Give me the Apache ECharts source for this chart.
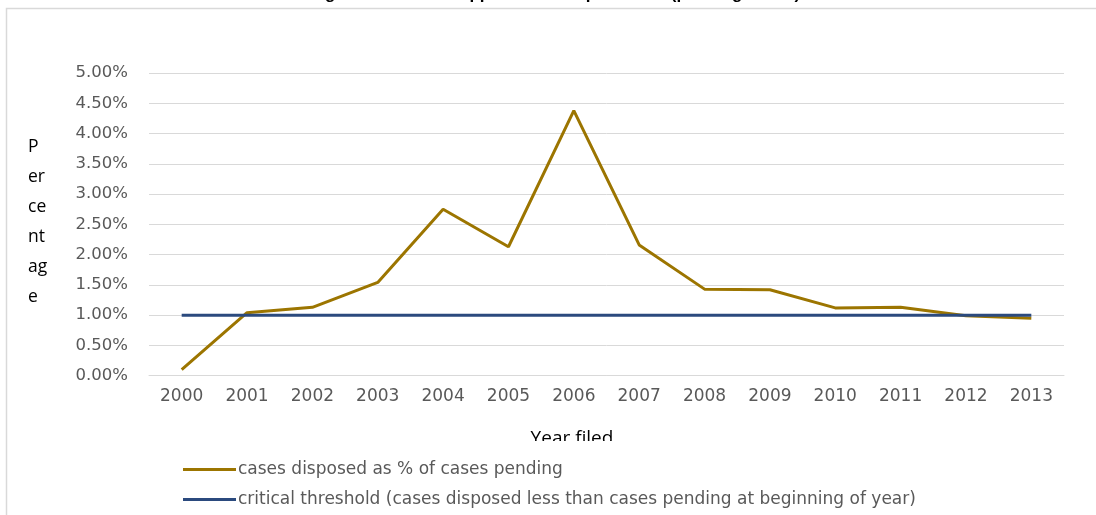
<!DOCTYPE html>
<html>
<head>
<meta charset="utf-8">
<script src="https://cdn.jsdelivr.net/npm/echarts@6/dist/echarts.min.js"></script>
<style>
  html, body { margin: 0; padding: 0; background: #ffffff; }
  #chart { width: 1096px; height: 515px; }
</style>
</head>
<body>
<div id="chart"></div>
<script>
// Year filed
const years = ['2000', '2001', '2002', '2003', '2004', '2005', '2006',
               '2007', '2008', '2009', '2010', '2011', '2012', '2013'];

// Cases disposed as % of cases pending (percent)
const disposedPct = [0.10, 1.04, 1.13, 1.54, 2.75, 2.13, 4.38,
                     2.16, 1.43, 1.42, 1.12, 1.13, 0.99, 0.95];

// Critical threshold (percent)
const thresholdPct = [1.00, 1.00, 1.00, 1.00, 1.00, 1.00, 1.00,
                      1.00, 1.00, 1.00, 1.00, 1.00, 1.00, 1.00];

const seriesNames = [
  'cases disposed as % of cases pending',
  'critical threshold (cases disposed less than cases pending at beginning of year)'
];

const titleText = 'Figure 4: Court of Appeal case disposal rate (pending cases)';
const yAxisTitle = 'P\ner\nce\nnt\nag\ne';
const xAxisTitle = 'Year filed';

const chart = echarts.init(document.getElementById('chart'), null, { renderer: 'canvas' });

chart.setOption({
  backgroundColor: '#ffffff',
  animation: false,
  grid: { left: 149, right: 32, top: 73, bottom: 139.3, containLabel: false },
  legend: {
    orient: 'vertical',
    left: 178,
    top: 456,
    itemWidth: 53,
    itemHeight: 3,
    itemGap: 13,
    icon: 'rect',
    textStyle: { color: '#595959', fontFamily: 'DejaVu Sans', fontSize: 17, padding: [0, 0, 0, -3] },
    data: seriesNames
  },
  xAxis: {
    type: 'category',
    data: years,
    boundaryGap: true,
    axisLine: { show: true, lineStyle: { color: '#d9d9d9', width: 1 } },
    axisTick: { show: false },
    axisLabel: { color: '#595959', fontFamily: 'DejaVu Sans', fontSize: 17, margin: 12 }
  },
  yAxis: {
    type: 'value',
    min: 0,
    max: 5,
    interval: 0.5,
    axisLine: { show: false },
    axisTick: { show: false },
    splitLine: { lineStyle: { color: '#d9d9d9', width: 1 } },
    axisLabel: {
      color: '#595959', fontFamily: 'DejaVu Sans', fontSize: 16.5, margin: 21,
      formatter: v => v.toFixed(2) + '%'
    }
  },
  series: [
    {
      name: seriesNames[0],
      type: 'line',
      data: disposedPct,
      symbol: 'none',
      lineStyle: { color: '#9c7500', width: 3 },
      itemStyle: { color: '#9c7500' }
    },
    {
      name: seriesNames[1],
      type: 'line',
      data: thresholdPct,
      symbol: 'none',
      lineStyle: { color: '#2b4a7e', width: 3 },
      itemStyle: { color: '#2b4a7e' }
    }
  ],
  graphic: [
    // outer chart frame
    {
      type: 'rect', z: 0, silent: true,
      shape: { x: 6.5, y: 8.5, width: 1200, height: 600 },
      style: { fill: 'none', stroke: '#d9d9d9', lineWidth: 1.5 }
    },
    // heading
    {
      type: 'text', z: 10, silent: true,
      x: 555, y: 3,
      style: {
        text: titleText, fill: '#000000',
        font: 'bold 17px "Liberation Sans", sans-serif',
        align: 'center', verticalAlign: 'bottom'
      }
    },
    // vertical axis title
    {
      type: 'text', z: 10, silent: true,
      x: 28, y: 132,
      style: {
        text: yAxisTitle, fill: '#000000',
        font: '17.5px "Open Sans", sans-serif',
        lineHeight: 30, align: 'left', verticalAlign: 'top'
      }
    },
    // horizontal axis title
    {
      type: 'text', z: 10, silent: true,
      x: 572, y: 439,
      style: {
        text: xAxisTitle, fill: '#000000',
        font: '19px "Open Sans", sans-serif',
        align: 'center', verticalAlign: 'middle'
      }
    },
    // band under the axis title, above the legend
    {
      type: 'rect', z: 20, silent: true,
      shape: { x: 400, y: 441, width: 350, height: 13 },
      style: { fill: '#ffffff' }
    }
  ]
});
</script>
</body>
</html>
